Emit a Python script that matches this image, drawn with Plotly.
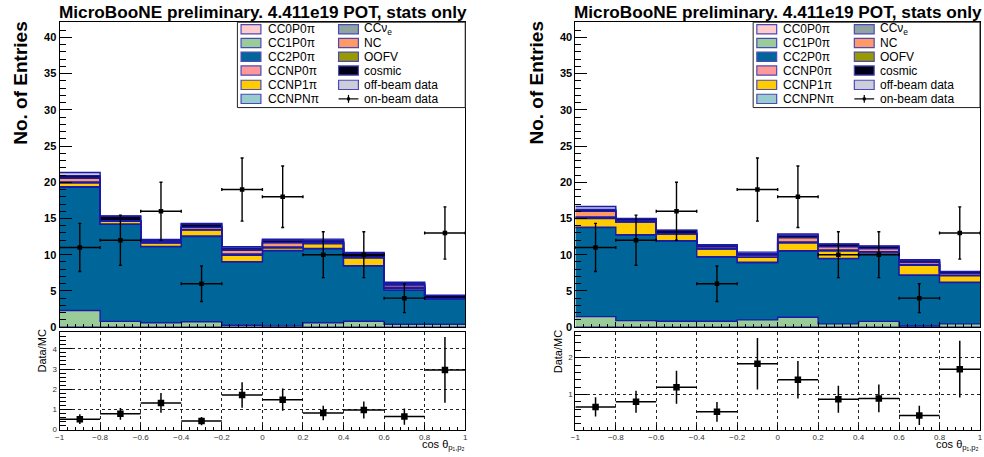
import plotly.graph_objects as go

W, H = 984, 457

# ---- binning -------------------------------------------------------------
bin_edges = [-1.0, -0.8, -0.6, -0.4, -0.2, 0.0, 0.2, 0.4, 0.6, 0.8, 1.0]
bin_centers = [-0.9, -0.7, -0.5, -0.3, -0.1, 0.1, 0.3, 0.5, 0.7, 0.9]

# ---- on-beam data (same in both panels) ----------------------------------
on_beam = [11, 12, 16, 6, 19, 18, 10, 10, 4, 13]
on_beam_err = [3.32, 3.46, 4.0, 2.45, 4.36, 4.24, 3.16, 3.16, 2.0, 3.61]

# ---- stacked prediction, left panel ----------------------------------------
cc0p0pi_L = [0.0, 0.0, 0.0, 0.0, 0.0, 0.0, 0.0, 0.0, 0.0, 0.0]
cc1p0pi_L = [2.30, 0.80, 0.60, 0.75, 0.27, 0.18, 0.60, 0.82, 0.40, 0.40]
cc2p0pi_L = [17.00, 13.40, 10.50, 11.75, 8.70, 10.35, 10.20, 7.63, 4.70, 3.55]
ccnp0pi_L = [0.10, 0.05, 0.05, 0.10, 0.05, 0.05, 0.05, 0.05, 0.05, 0.00]
ccnp1pi_L = [0.50, 0.35, 0.45, 0.80, 0.90, 0.35, 0.65, 1.05, 0.20, 0.00]
ccnpnpi_L = [0.10, 0.05, 0.05, 0.05, 0.10, 0.10, 0.10, 0.05, 0.10, 0.00]
ccnue_L = [0.05, 0.00, 0.05, 0.05, 0.10, 0.05, 0.05, 0.05, 0.05, 0.00]
nc_L = [0.50, 0.05, 0.15, 0.30, 0.50, 0.55, 0.10, 0.05, 0.30, 0.00]
oofv_L = [0.05, 0.00, 0.00, 0.00, 0.05, 0.05, 0.00, 0.00, 0.05, 0.00]
cosmic_L = [0.30, 0.60, 0.15, 0.45, 0.25, 0.30, 0.25, 0.50, 0.20, 0.40]
offbeam_L = [0.45, 0.05, 0.10, 0.05, 0.20, 0.15, 0.15, 0.10, 0.15, 0.05]
ratio_err_L = [0.24, 0.29, 0.49, 0.20, 0.63, 0.55, 0.36, 0.42, 0.40, 1.63]

# ---- stacked prediction, right panel ---------------------------------------
cc0p0pi_R = [0.0, 0.0, 0.0, 0.0, 0.0, 0.0, 0.0, 0.0, 0.0, 0.0]
cc1p0pi_R = [1.45, 0.90, 0.82, 0.82, 1.00, 1.36, 0.45, 0.80, 0.15, 0.45]
cc2p0pi_R = [12.30, 11.82, 11.08, 8.86, 7.90, 9.14, 9.00, 9.25, 7.00, 5.70]
ccnp0pi_R = [0.05, 0.05, 0.05, 0.05, 0.05, 0.05, 0.05, 0.05, 0.05, 0.05]
ccnp1pi_R = [1.20, 1.73, 0.90, 1.05, 0.70, 1.05, 1.00, 0.25, 1.35, 0.90]
ccnpnpi_R = [0.15, 0.05, 0.05, 0.05, 0.05, 0.10, 0.10, 0.05, 0.05, 0.05]
ccnue_R = [0.05, 0.00, 0.00, 0.00, 0.00, 0.05, 0.05, 0.00, 0.05, 0.00]
nc_R = [0.80, 0.15, 0.05, 0.25, 0.25, 0.60, 0.45, 0.45, 0.30, 0.25]
oofv_R = [0.05, 0.00, 0.00, 0.00, 0.00, 0.05, 0.05, 0.00, 0.05, 0.00]
cosmic_R = [0.20, 0.25, 0.40, 0.20, 0.20, 0.30, 0.30, 0.30, 0.25, 0.25]
offbeam_R = [0.40, 0.05, 0.05, 0.10, 0.20, 0.15, 0.05, 0.05, 0.05, 0.05]
ratio_err_R = [0.26, 0.30, 0.45, 0.27, 0.70, 0.51, 0.37, 0.38, 0.26, 0.77]

# ---- category names / fills ------------------------------------------------
categories = ["CC0P0π", "CC1P0π", "CC2P0π", "CCNP0π", "CCNP1π", "CCNPNπ",
              "CCν<sub>e</sub>", "NC", "OOFV", "cosmic", "off-beam data"]
fill_colors = ["#FFCCCC", "#99CC99", "#006699", "#FF9999", "#FFCC00", "#99CCCC",
               "#8FA3A0", "#FF9966", "#999900", "#000018", "#CCCCDA"]
OUTLINE = "#1A1AA6"
LEGEND_EDGE = "#4B4BB8"

title_text = "MicroBooNE preliminary. 4.411e19 POT, stats only"
ytitle_main = "No. of Entries"
ytitle_ratio = "Data/MC"
xtitle = "cos θ<sub>p₁,p₂</sub>"

panels = [
    dict(stack=[cc0p0pi_L, cc1p0pi_L, cc2p0pi_L, ccnp0pi_L, ccnp1pi_L, ccnpnpi_L,
                ccnue_L, nc_L, oofv_L, cosmic_L, offbeam_L],
         ratio_err=ratio_err_L, x0=55, x1=464, ratio_range=[0, 4.82],
         ratio_dtick=1, main_ax=("x", "y"), ratio_ax=("x2", "y2")),
    dict(stack=[cc0p0pi_R, cc1p0pi_R, cc2p0pi_R, ccnp0pi_R, ccnp1pi_R, ccnpnpi_R,
                ccnue_R, nc_R, oofv_R, cosmic_R, offbeam_R],
         ratio_err=ratio_err_R, x0=575, x1=983, ratio_range=[0.045, 2.69],
         ratio_dtick=1, main_ax=("x3", "y3"), ratio_ax=("x4", "y4")),
]


def fx(px):
    return px / W


def fy(py):
    return 1 - py / H


fig = go.Figure()
shapes = []
annotations = []

for ip, p in enumerate(panels):
    xa, ya = p["main_ax"]
    xr, yr = p["ratio_ax"]
    group = "stack%d" % ip
    # stacked histogram drawn as filled steps, stacked by plotly
    for name, col, vals in zip(categories, fill_colors, p["stack"]):
        fig.add_trace(go.Scatter(
            x=bin_edges, y=list(vals) + [vals[-1]], mode="lines",
            line=dict(shape="hv", color=OUTLINE, width=1.4),
            fillcolor=col, stackgroup=group, name=name,
            xaxis=xa, yaxis=ya, showlegend=False, hoverinfo="skip"))
    # on-beam data with Poisson errors
    fig.add_trace(go.Scatter(
        x=bin_centers, y=on_beam, mode="markers",
        marker=dict(symbol="square", size=4.5, color="black"),
        error_y=dict(type="data", array=on_beam_err, color="black",
                     thickness=1.4, width=1.5),
        error_x=dict(type="constant", value=0.1, color="black",
                     thickness=1.4, width=1.5),
        xaxis=xa, yaxis=ya, showlegend=False, name="on-beam data"))
    # data / prediction ratio
    totals = [sum(col[i] for col in p["stack"]) for i in range(len(on_beam))]
    ratio = [d / t for d, t in zip(on_beam, totals)]
    fig.add_trace(go.Scatter(
        x=bin_centers, y=ratio, mode="markers",
        marker=dict(symbol="square", size=6.5, color="black"),
        error_y=dict(type="data", array=p["ratio_err"], color="black",
                     thickness=1.5, width=0),
        error_x=dict(type="constant", value=0.1, color="black",
                     thickness=1.5, width=0),
        xaxis=xr, yaxis=yr, showlegend=False, name="Data/MC"))

    dom_x = [fx(p["x0"]), fx(p["x1"])]
    axis_common = dict(showline=True, mirror=True, linecolor="black", linewidth=1,
                       zeroline=False, ticks="inside", tickcolor="black")
    n = 2 * ip
    kx_main = "xaxis" if n == 0 else "xaxis%d" % (n + 1)
    ky_main = "yaxis" if n == 0 else "yaxis%d" % (n + 1)
    kx_rat = "xaxis%d" % (n + 2)
    ky_rat = "yaxis%d" % (n + 2)
    fig.update_layout(**{
        kx_main: dict(axis_common, domain=dom_x, anchor=ya, range=[-1, 1],
                      tick0=-1, dtick=0.2, ticklen=5, showticklabels=False,
                      showgrid=False,
                      minor=dict(ticks="inside", dtick=0.04, ticklen=3,
                                 tickcolor="black", showgrid=False)),
        ky_main: dict(axis_common, domain=[fy(331.5), fy(22.5)], anchor=xa,
                      range=[0, 42.1], tick0=0, dtick=5, ticklen=12,
                      showgrid=False,
                      tickfont=dict(family="Liberation Sans", size=11,
                                    color="black", weight="bold"),
                      minor=dict(ticks="inside", dtick=1, ticklen=6,
                                 tickcolor="black", showgrid=False)),
        kx_rat: dict(axis_common, domain=dom_x, anchor=yr, range=[-1, 1],
                     tick0=-1, dtick=0.2, ticklen=5,
                     showgrid=True, gridcolor="#222", griddash="dot", gridwidth=1,
                     tickfont=dict(family="Liberation Sans", size=8, color="#333"),
                     minor=dict(ticks="inside", dtick=0.04, ticklen=3,
                                tickcolor="black", showgrid=False)),
        ky_rat: dict(axis_common, domain=[fy(435.3), fy(336.7)], anchor=xr,
                     range=p["ratio_range"], tick0=0, dtick=p["ratio_dtick"],
                     ticklen=12,
                     showgrid=True, gridcolor="#222", griddash="dot", gridwidth=1,
                     tickfont=dict(family="Liberation Sans", size=8, color="#333"),
                     minor=dict(ticks="inside", dtick=0.2, ticklen=6,
                                tickcolor="black", showgrid=False)),
    })

    # panel title
    annotations.append(dict(
        text=title_text, x=fx((p["x0"] + 1 + p["x1"]) / 2), y=fy(12.3),
        xref="paper", yref="paper", xanchor="center", yanchor="middle",
        showarrow=False,
        font=dict(family="Liberation Sans", size=17.2, color="black", weight="bold")))
    # axis titles
    annotations.append(dict(
        text=ytitle_main, x=fx(p["x0"] - 39), y=fy(84), textangle=-90,
        xref="paper", yref="paper", xanchor="center", yanchor="middle",
        showarrow=False,
        font=dict(family="Liberation Sans", size=19, color="black", weight="bold")))
    annotations.append(dict(
        text=ytitle_ratio, x=fx(p["x0"] - 17.5), y=fy(356), textangle=-90,
        xref="paper", yref="paper", xanchor="center", yanchor="middle",
        showarrow=False,
        font=dict(family="Liberation Sans", size=11, color="black")))
    annotations.append(dict(
        text=xtitle, x=fx(p["x1"] - 46), y=fy(451),
        xref="paper", yref="paper", xanchor="left", yanchor="middle",
        showarrow=False,
        font=dict(family="Liberation Sans", size=11, color="black")))

    # legend box
    lx0 = p["x0"] + 179.3
    shapes.append(dict(type="rect", xref="paper", yref="paper",
                       x0=fx(lx0), x1=fx(p["x1"]), y0=fy(109), y1=fy(22.5),
                       line=dict(color="#222", width=1), fillcolor="white",
                       layer="above"))
    rows_y = [29.6, 43.5, 57.5, 71.5, 86.0, 100.2]
    entries = list(zip(categories, fill_colors))
    for k in range(12):
        col = k // 6
        row = k % 6
        cy = rows_y[row]
        sx = lx0 + (3.7 if col == 0 else 102.0)
        tx = lx0 + (28.4 if col == 0 else 125.7)
        if k < 11:
            name, fc = entries[k]
            shapes.append(dict(type="rect", xref="paper", yref="paper",
                               x0=fx(sx), x1=fx(sx + 20), y0=fy(cy + 4.7),
                               y1=fy(cy - 4.7), fillcolor=fc,
                               line=dict(color=LEGEND_EDGE, width=1.2),
                               layer="above"))
        else:
            name = "on-beam data"
            shapes.append(dict(type="line", xref="paper", yref="paper",
                               x0=fx(sx), x1=fx(sx + 20), y0=fy(cy), y1=fy(cy),
                               line=dict(color="black", width=1.2), layer="above"))
            shapes.append(dict(type="line", xref="paper", yref="paper",
                               x0=fx(sx + 10), x1=fx(sx + 10), y0=fy(cy + 4),
                               y1=fy(cy - 4),
                               line=dict(color="black", width=1.2), layer="above"))
            shapes.append(dict(type="rect", xref="paper", yref="paper",
                               x0=fx(sx + 8.5), x1=fx(sx + 11.5), y0=fy(cy + 1.5),
                               y1=fy(cy - 1.5), fillcolor="black",
                               line=dict(color="black", width=0), layer="above"))
        annotations.append(dict(
            text=name, x=fx(tx), y=fy(cy), xref="paper", yref="paper",
            xanchor="left", yanchor="middle", showarrow=False,
            font=dict(family="Liberation Sans", size=12, color="black")))

fig.update_layout(
    width=W, height=H, margin=dict(l=0, r=0, t=0, b=0),
    paper_bgcolor="white", plot_bgcolor="white",
    showlegend=False, shapes=shapes, annotations=annotations,
    font=dict(family="Liberation Sans"),
)

fig.write_html("out.html")
